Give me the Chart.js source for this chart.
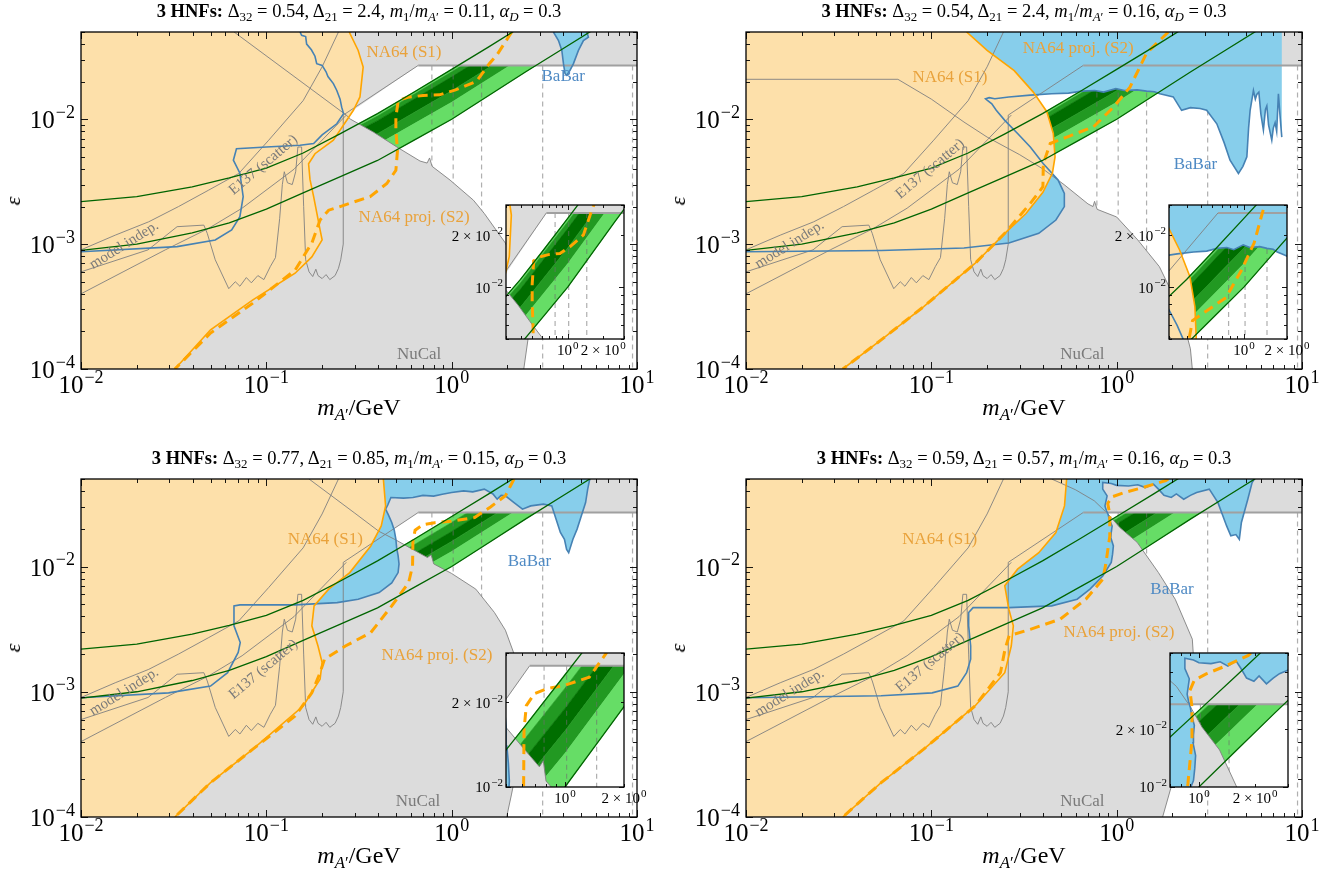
<!DOCTYPE html>
<html>
<head>
<meta charset="utf-8">
<title>3 HNFs dark photon limits</title>
<script src="https://cdn.jsdelivr.net/npm/chart.js@4.4.1/dist/chart.umd.min.js"></script>
<style>
  html, body { margin: 0; padding: 0; background: #fff; }
  body { width: 1334px; height: 881px; position: relative; overflow: hidden;
         font-family: "Liberation Serif", "DejaVu Serif", serif; color: #000; }
  canvas { position: absolute; }
  .ttl { position: absolute; font-size: 18.5px; line-height: 22px; white-space: nowrap; transform: translateX(-50%); }
  .xl { position: absolute; font-size: 24px; line-height: 28px; white-space: nowrap; transform: translateX(-50%); }
  .yl { position: absolute; font-size: 22px; font-style: italic; transform: translate(-50%, -50%) rotate(-90deg); }
  sub { font-size: 70%; vertical-align: -0.3em; line-height: 0; }
</style>
</head>
<body>
<script>
// axes
const X_RANGE = [0.01, 10];
const Y_RANGE = [1e-4, 0.05];
const RESONANCES = [0.782, 1.019, 1.45, 3.097, 9.46];
const TOP_LIMIT = 0.027;

// panel parameters
const DELTA_32 = ['0.54', '0.54', '0.77', '0.59'];
const DELTA_21 = ['2.4', '2.4', '0.85', '0.57'];
const MASS_RATIO = ['0.11', '0.16', '0.15', '0.16'];
const ALPHA_D = ['0.3', '0.3', '0.3', '0.3'];

// zoomed windows
const INSET_X = [[0.3, 3], [0.3, 2], [0.5, 2], [0.73, 3]];
const INSET_Y = [[0.005, 0.03], [0.005, 0.03], [0.01, 0.03], [0.01, 0.05]];

// HNF band edges (same in every panel)
const BAND_UPPER = [[0.01,0.00219],[0.02,0.0024],[0.0398,0.00288],[0.0631,0.00339],[0.1,0.00407],[0.158,0.00537],
  [0.251,0.00767],[0.398,0.01109],[0.631,0.0166],[1.0,0.0251],[1.585,0.038],[2.512,0.0582]];
const BAND_LOWER = [[0.01,0.000891],[0.02,0.001],[0.0398,0.00123],[0.0631,0.00148],[0.1,0.00191],[0.158,0.00257],
  [0.251,0.00347],[0.398,0.00468],[0.631,0.00684],[1.0,0.01],[1.585,0.01549],[2.512,0.024],[3.981,0.0367],[6.31,0.0562]];

// shaded bands inside the HNF band
const STRIPE_X = [0.1585, 0.3981, 1.0, 2.512, 6.31];
const EDGE_U = [0.00537, 0.01109, 0.0251, 0.0582, 0.1349];
const EDGE_L = [0.00257, 0.00468, 0.01, 0.024, 0.0562];
const SPLITS_A = [
  [0.00518, 0.01062, 0.02399, 0.05572, 0.1291],
  [0.00481, 0.00975, 0.02188, 0.05093, 0.1183],
  [0.00391, 0.00766, 0.0169, 0.03972, 0.0927],
  [0.0033, 0.00627, 0.01368, 0.03243, 0.0757]
];
const SPLITS_B = [
  [0.00492, 0.01, 0.02249, 0.05236, 0.1213],
  [0.00431, 0.00855, 0.01905, 0.04457, 0.1038],
  [0.00372, 0.00719, 0.01585, 0.03733, 0.0871],
  [0.00321, 0.00605, 0.01318, 0.03126, 0.0731]
];
const STRIPE_COLORS = ['#66dd66', '#229922', '#006e00', '#229922', '#66dd66'];

// fixed bounds
const E137 = [[0.01,0.0009],[0.0153,0.00118],[0.0232,0.00151],[0.0336,0.002],[0.0489,0.00271],[0.071,0.00368],
  [0.103,0.0068],[0.158,0.0141],[0.2,0.0263],[0.245,0.05]];
const MODEL_INDEP = [[0.01,0.0004],[0.0285,0.0009],[0.0489,0.00134],[0.074,0.00194],[0.141,0.00398],[0.27,0.0108]];
const SPIKY = [[0.01,0.0006],[0.023,0.0009],[0.033,0.00138],[0.046,0.00142],[0.048,0.00122],[0.053,0.00075],
  [0.0627,0.00044],[0.068,0.0005],[0.072,0.00046],[0.078,0.00054],[0.083,0.00049],[0.09,0.00056],[0.097,0.00052],
  [0.105,0.00066],[0.112,0.00078],[0.118,0.0016],[0.122,0.003],[0.125,0.0038],[0.13,0.0031],[0.138,0.003],
  [0.144,0.0038],[0.148,0.006],[0.155,0.006],[0.159,0.002],[0.163,0.00075],[0.17,0.0006],[0.178,0.00055],
  [0.185,0.00063],[0.19,0.00056],[0.2,0.00053],[0.21,0.00057],[0.22,0.00052],[0.235,0.00056],[0.245,0.00064],
  [0.252,0.00075],[0.26,0.001],[0.26,0.0108],[0.66,0.027]];
const TOP_EDGE = [[0.66,0.027],[10,0.027]];

// panel 1
const NUCAL_1 = [[0.067,0.05],[0.27,0.0108],[0.285,0.01],[0.378,0.0079],[0.506,0.006],[0.675,0.00463],[0.737,0.00446],
  [0.76,0.0049],[0.784,0.0042],[0.98,0.00326],[1.31,0.00225],[1.5,0.00176],[1.95,0.00102],[2.41,0.00049],[2.61,0.000194],[2.45,0.0001]];
const HOLE_EDGE_1 = [[0.66,0.027],[10,0.027],[10,0.0001]];
const NA64_S1_1 = [[0.28,0.05],[0.313,0.0356],[0.333,0.0262],[0.32,0.0151],[0.295,0.0118],[0.23,0.0068],[0.183,0.0053],
  [0.169,0.0044],[0.172,0.0033],[0.18,0.0024],[0.195,0.0013],[0.2,0.00108],[0.176,0.00079],[0.143,0.000585],
  [0.0846,0.000358],[0.05,0.000206],[0.0321,0.0001]];
const NA64_S2_1 = [[2.11,0.05],[1.76,0.033],[1.6,0.028],[1.36,0.0201],[1.05,0.0172],[0.86,0.0157],[0.7,0.0155],
  [0.58,0.015],[0.515,0.0142],[0.5,0.0104],[0.5,0.0082],[0.51,0.0056],[0.5,0.0039],[0.447,0.00306],[0.363,0.0024],
  [0.25,0.002],[0.217,0.00187],[0.195,0.00156],[0.176,0.00102],[0.143,0.00062],[0.0846,0.000337],[0.05,0.000194],[0.0321,0.0001]];
const BABAR_1 = [[0.152,0.05],[0.155,0.047],[0.163,0.046],[0.165,0.04],[0.175,0.036],[0.183,0.032],[0.187,0.0279],
  [0.2,0.027],[0.21,0.024],[0.215,0.022],[0.23,0.0193],[0.24,0.017],[0.25,0.0145],[0.255,0.0125],[0.261,0.0111],
  [0.24,0.0092],[0.2,0.0075],[0.18,0.0064],[0.152,0.0062],[0.1,0.006],[0.069,0.0058],[0.0664,0.0047],[0.072,0.0037],
  [0.075,0.0024],[0.072,0.00166],[0.065,0.0013],[0.053,0.00108],[0.033,0.000955],[0.01,0.00087]];
const BABAR_1B = [[3.54,0.05],[3.77,0.0427],[3.93,0.0356],[4.01,0.0279],[4.09,0.0232],[4.18,0.0225],[4.35,0.0246],
  [4.54,0.0279],[4.83,0.0356],[5.14,0.0427],[5.47,0.0454],[5.36,0.05]];

// panel 2
const NUCAL_2 = [[0.01,0.0209],[0.066,0.0209],[0.1,0.0145],[0.15,0.0095],[0.2,0.0072],[0.3,0.0052],[0.4,0.004],
  [0.52,0.003],[0.7,0.0021],[0.745,0.002],[0.76,0.0022],[0.785,0.0019],[1.0,0.00165],[1.3,0.00108],[1.7,0.00066],
  [2.2,0.0003],[2.5,0.000145],[2.56,0.0001]];
const HOLE_EDGE_2 = [[0.26,0.0057],[0.26,0.0108],[0.66,0.027],[10,0.027],[10,0.0001]];
const NA64_S1_2 = [[0.155,0.05],[0.2,0.0356],[0.28,0.0245],[0.355,0.0165],[0.42,0.0115],[0.455,0.0077],[0.465,0.005],
  [0.45,0.0037],[0.4,0.0026],[0.324,0.00176],[0.249,0.00122],[0.172,0.0007],[0.091,0.000316],[0.0536,0.000171],[0.0333,0.0001]];
const NA64_S2_2 = [[1.9,0.05],[1.45,0.0338],[1.18,0.0181],[0.96,0.0125],[0.75,0.0087],[0.538,0.0072],[0.438,0.0064],
  [0.402,0.0044],[0.4,0.00288],[0.342,0.00212],[0.249,0.00122],[0.172,0.0007],[0.091,0.000316],[0.0536,0.000171],[0.0333,0.0001]];
const BABAR_2 = [[0.01,0.00087],[0.0536,0.00089],[0.15,0.00093],[0.262,0.00102],[0.38,0.00122],[0.47,0.00156],
  [0.522,0.002],[0.522,0.00255],[0.483,0.00326],[0.401,0.00443],[0.342,0.006],[0.292,0.0077],[0.249,0.0098],
  [0.224,0.0118],[0.212,0.0133],[0.2,0.0142],[0.196,0.0146],[0.205,0.0149],[0.22,0.0146],[0.262,0.0151],
  [0.342,0.0156],[0.446,0.016],[0.55,0.0162],[0.65,0.0168],[0.76,0.017],[0.85,0.0165],[0.99,0.0176],[1.1,0.017],
  [1.29,0.0172],[1.45,0.0168],[1.6,0.0166],[1.71,0.016],[1.85,0.0156],[2.02,0.0151],[2.24,0.0118],[2.5,0.0124],
  [2.82,0.0122],[3.06,0.0118],[3.47,0.0092],[3.8,0.0065],[4.09,0.0047],[4.54,0.00368],[4.8,0.0042],[5.04,0.005],
  [5.15,0.0085],[5.25,0.0118],[5.47,0.017],[5.6,0.0145],[5.7,0.0158],[5.85,0.0165],[6.0,0.011],[6.19,0.0082],
  [6.35,0.012],[6.46,0.0128],[6.6,0.009],[6.87,0.0068],[7.0,0.0085],[7.16,0.0094],[7.3,0.008],[7.46,0.016],
  [7.6,0.011],[7.78,0.0072]];

// panel 3
const NUCAL_3 = [[0.17,0.05],[0.3,0.0267],[0.405,0.0191],[0.5,0.0163],[0.6,0.014],[0.74,0.0118],[0.775,0.0124],
  [0.8,0.0105],[1.0,0.0088],[1.35,0.0066],[1.7,0.0043],[1.95,0.0031],[2.2,0.0019],[2.3,0.0011],[2.33,0.0005],
  [2.25,0.00025],[2.1,0.00015],[1.98,0.0001]];
const HOLE_EDGE_3 = [[0.44,0.018],[0.66,0.027],[10,0.027],[10,0.0001]];
const NA64_S1_3 = [[0.428,0.05],[0.44,0.0305],[0.417,0.0211],[0.366,0.0146],[0.282,0.00895],[0.217,0.0066],
  [0.181,0.00485],[0.176,0.00336],[0.19,0.00232],[0.2,0.00171],[0.195,0.00126],[0.158,0.00077],[0.0846,0.000348],
  [0.05,0.000188],[0.0321,0.0001]];
const NA64_S2_3 = [[2.17,0.05],[1.95,0.0367],[1.62,0.0299],[1.33,0.0246],[0.99,0.023],[0.81,0.0224],[0.698,0.0215],
  [0.635,0.0195],[0.618,0.016],[0.615,0.0101],[0.586,0.00745],[0.475,0.00485],[0.366,0.00297],[0.267,0.00232],
  [0.206,0.00182],[0.195,0.00142],[0.176,0.00098],[0.143,0.00064],[0.0846,0.000348],[0.05,0.000188],[0.0321,0.0001]];
const BABAR_3 = [[0.01,0.000897],[0.0297,0.00098],[0.05,0.00111],[0.0618,0.00142],[0.0705,0.00206],[0.0723,0.00247],
  [0.0669,0.00336],[0.0669,0.00485],[0.072,0.00494],[0.143,0.00494],[0.241,0.00515],[0.313,0.00548],[0.406,0.0062],
  [0.475,0.0074],[0.514,0.00895],[0.52,0.0105],[0.514,0.0122],[0.505,0.014],[0.5,0.0165],[0.49,0.0195],[0.475,0.0225],
  [0.455,0.026],[0.44,0.0287],[0.452,0.031],[0.47,0.0356],[0.55,0.0352],[0.618,0.0356],[0.7,0.037],[0.8,0.0365],
  [0.89,0.0378],[1.0,0.039],[1.16,0.0402],[1.3,0.0395],[1.5,0.0415],[1.67,0.038],[1.76,0.0345],[1.85,0.037],
  [1.95,0.0367],[2.17,0.0324],[2.41,0.0287],[2.67,0.0305],[3.13,0.0315],[3.47,0.0305],[3.66,0.0239],[3.86,0.0187],
  [4.06,0.0165],[4.17,0.0137],[4.28,0.0129],[4.51,0.0165],[4.75,0.0199],[5.01,0.0254],[5.28,0.0324],[5.42,0.0415],[5.56,0.05]];

// panel 4
const NUCAL_4 = [[0.446,0.05],[0.6,0.041],[0.757,0.0335],[0.9,0.0262],[1.04,0.0205],[1.29,0.0156],[1.68,0.00895],
  [2.07,0.00548],[2.56,0.00263],[2.63,0.00142],[2.43,0.00057],[2.07,0.000226],[1.77,0.0001]];
const HOLE_EDGE_4 = [[0.88,0.027],[10,0.027],[10,0.0001]];
const NA64_S1_4 = [[0.537,0.05],[0.523,0.0305],[0.47,0.0187],[0.38,0.0129],[0.292,0.00953],[0.249,0.00702],
  [0.262,0.00456],[0.277,0.00336],[0.27,0.00232],[0.249,0.00142],[0.172,0.00077],[0.091,0.000348],[0.0536,0.000188],[0.0333,0.0001]];
const NA64_S2_4 = [[1.9,0.05],[1.84,0.0486],[1.35,0.0423],[1.1,0.039],[0.944,0.036],[0.895,0.0319],[0.918,0.0261],
  [0.918,0.0175],[0.873,0.0104],[0.841,0.0079],[0.683,0.0055],[0.496,0.0038],[0.342,0.00315],[0.263,0.0028],
  [0.25,0.0022],[0.236,0.00142],[0.172,0.00077],[0.091,0.000348],[0.0536,0.000188],[0.0333,0.0001]];
const BABAR_4 = [[0.01,0.000897],[0.0536,0.00093],[0.101,0.00098],[0.139,0.00111],[0.155,0.00142],[0.163,0.00182],
  [0.163,0.00232],[0.159,0.00336],[0.159,0.00429],[0.168,0.0047],[0.262,0.0047],[0.446,0.00485],[0.612,0.00548],
  [0.718,0.0066],[0.841,0.0084],[0.935,0.0108],[0.95,0.0125],[0.96,0.0146],[0.93,0.017],[0.935,0.0187],[0.945,0.021],
  [0.912,0.0239],[0.9,0.026],[0.88,0.028],[0.865,0.0305],[0.888,0.0367],[0.841,0.0415],[0.841,0.0469],[0.935,0.046],
  [1.0,0.0445],[1.16,0.044],[1.3,0.045],[1.43,0.0427],[1.58,0.0455],[1.68,0.0415],[1.8,0.037],[1.97,0.0356],[2.1,0.038],
  [2.3,0.0345],[2.5,0.037],[2.7,0.039],[3.16,0.0415],[3.52,0.0324],[3.92,0.0211],[4.13,0.0176],[4.4,0.018],
  [4.59,0.0165],[4.71,0.0225],[5.1,0.0345],[5.38,0.0469],[5.53,0.05]];

// colours
const ORANGE = '#ffa500', ORANGE_FILL = '#fde0aa', BLUE = '#4682b4', BLUE_FILL = '#87ceeb';
const GREY_FILL = '#dcdcdc', GREY_LINE = '#808080', GREEN_LINE = '#006400', DASH_GREY = 'rgba(110,110,110,0.55)';
const TXT_O = '#e9a23b', TXT_B = '#4f8ac4', TXT_G = '#7a7a7a';

const PANELS = [
  { box: [81, 32, 637, 369], inset: [506, 205, 624, 339], nucal: NUCAL_1, hole: HOLE_EDGE_1.concat(NUCAL_1.slice(1).reverse()),
    s1: NA64_S1_1, s2: NA64_S2_1, splits: SPLITS_A, babar: [[BABAR_1, true], [BABAR_1B, false]],
    notes: [['NA64 (S1)', 0.553, 0.0343, TXT_O, 0, 17], ['BaBar', 4.0, 0.0218, TXT_B, 0, 17],
            ['NA64 proj. (S2)', 0.627, 0.00162, TXT_O, 0, 17], ['NuCal', 0.667, 0.00013, TXT_G, 0, 17],
            ['E137 (scatter)', 0.0964, 0.0043, TXT_G, -40, 15], ['model indep.', 0.0171, 0.00098, TXT_G, -32, 15]] },
  { box: [746, 32, 1302, 369], inset: [1169, 205, 1287, 339], nucal: NUCAL_2, hole: HOLE_EDGE_2.concat(NUCAL_2.slice(5).reverse()),
    s1: NA64_S1_2, s2: NA64_S2_2, splits: SPLITS_A, babar: [[BABAR_2, true]],
    notes: [['NA64 proj. (S2)', 0.62, 0.0367, TXT_O, 0, 17], ['NA64 (S1)', 0.126, 0.0215, TXT_O, 0, 17],
            ['BaBar', 2.66, 0.00437, TXT_B, 0, 17], ['NuCal', 0.653, 0.00013, TXT_G, 0, 17],
            ['E137 (scatter)', 0.0986, 0.004, TXT_G, -40, 15], ['model indep.', 0.0172, 0.00099, TXT_G, -32, 15]] },
  { box: [81, 479, 637, 817], inset: [506, 653, 624, 787], nucal: NUCAL_3, hole: HOLE_EDGE_3.concat(NUCAL_3.slice(3).reverse()),
    s1: NA64_S1_3, s2: NA64_S2_3, splits: SPLITS_B, babar: [[BABAR_3, true]],
    notes: [['NA64 (S1)', 0.208, 0.0165, TXT_O, 0, 17], ['BaBar', 2.63, 0.0109, TXT_B, 0, 17],
            ['NA64 proj. (S2)', 0.832, 0.00193, TXT_O, 0, 17], ['NuCal', 0.658, 0.000132, TXT_G, 0, 17],
            ['E137 (scatter)', 0.0964, 0.00151, TXT_G, -40, 15], ['model indep.', 0.0171, 0.001, TXT_G, -32, 15]] },
  { box: [746, 479, 1302, 817], inset: [1170, 653, 1288, 787], nucal: NUCAL_4, hole: HOLE_EDGE_4.concat(NUCAL_4.slice(3).reverse()),
    s1: NA64_S1_4, s2: NA64_S2_4, splits: SPLITS_A, babar: [[BABAR_4, true]],
    notes: [['NA64 (S1)', 0.111, 0.0165, TXT_O, 0, 17], ['BaBar', 1.99, 0.0066, TXT_B, 0, 17],
            ['NA64 proj. (S2)', 1.03, 0.00297, TXT_O, 0, 17], ['NuCal', 0.653, 0.000132, TXT_G, 0, 17],
            ['E137 (scatter)', 0.0986, 0.00171, TXT_G, -40, 15], ['model indep.', 0.0172, 0.00098, TXT_G, -32, 15]] }
];

// ---------- dataset helpers ----------
const pts = a => a.map(p => ({ x: p[0], y: p[1] }));
const area = (a, color) => ({ data: pts(a), showLine: true, fill: 'shape', backgroundColor: color,
  borderColor: color, borderWidth: 0, pointRadius: 0, clip: 0 });
const curve = (a, color, width, dash) => ({ data: pts(a), showLine: true, fill: false, borderColor: color,
  borderWidth: width, borderDash: dash || [], pointRadius: 0, clip: 0 });

function signedArea(a) {
  let s = 0;
  for (let i = 0; i < a.length; i++) {
    const p = a[i], q = a[(i + 1) % a.length];
    s += Math.log10(p[0]) * Math.log10(q[1]) - Math.log10(q[0]) * Math.log10(p[1]);
  }
  return s;
}

// grey everywhere except the open window (outer loop + reversed inner loop)
function greyCover(hole) {
  const outer = [[0.001, 1e-5], [100, 1e-5], [100, 1], [0.001, 1]];
  const h = hole.slice();
  if (Math.sign(signedArea(h)) === Math.sign(signedArea(outer))) h.reverse();
  return outer.concat([outer[0]], h, [h[0], outer[0]]);
}

// closes a contour through the area above the frame
function closeAbove(c) {
  const f = c[0], l = c[c.length - 1];
  return c.concat([[l[0], 1], [0.001, 1], [0.001, f[1]]]);
}

function stripes(splits) {
  const edges = [EDGE_U].concat(splits, [EDGE_L]);
  const out = [];
  for (let k = 0; k < 5; k++) {
    const a = STRIPE_X.map((x, i) => [x, edges[k][i]]);
    const b = STRIPE_X.map((x, i) => [x, edges[k + 1][i]]).reverse();
    const d = area(a.concat(b), STRIPE_COLORS[k]);
    d.borderWidth = 0.6;
    out.push(d);
  }
  return out;
}

function buildDatasets(p) {
  const list = [];                      // bottom first
  list.push(...stripes(p.splits));
  RESONANCES.forEach(r => list.push(curve([[r, TOP_LIMIT], [r, 1e-5]], DASH_GREY, 1.2, [5, 4])));
  list.push(area(greyCover(p.hole), GREY_FILL));
  p.babar.forEach(([c, open]) => list.push(area(open ? closeAbove(c) : c, BLUE_FILL)));
  list.push(area(p.s1.concat([[0.001, 1e-5], [0.001, 1]]), ORANGE_FILL));
  list.push(curve(E137, GREY_LINE, 0.9));
  list.push(curve(MODEL_INDEP, GREY_LINE, 0.9));
  list.push(curve(SPIKY, GREY_LINE, 0.9));
  list.push(curve(p.nucal, GREY_LINE, 0.9));
  list.push(curve(TOP_EDGE, '#a0a0a0', 2));
  p.babar.forEach(([c]) => list.push(curve(c, BLUE, 1.6)));
  list.push(curve(p.s1, ORANGE, 1.6));
  list.push(curve(p.s2, ORANGE, 3, [10, 6]));
  list.push(curve(BAND_UPPER, GREEN_LINE, 1.3));
  list.push(curve(BAND_LOWER, GREEN_LINE, 1.3));
  return list.reverse();                // chart.js paints index 0 last
}

// ---------- frame, ticks and tick labels ----------
const FONT = '"Liberation Serif", "DejaVu Serif", serif';

function logTicks(min, max) {
  const out = [];
  for (let e = Math.floor(Math.log10(min)); e <= Math.ceil(Math.log10(max)); e++) {
    for (let m = 1; m < 10; m++) {
      const v = m * Math.pow(10, e);
      if (v >= min * 0.999 && v <= max * 1.001) out.push({ v, major: m === 1 });
    }
  }
  return out;
}

function drawPow(ctx, x, y, pre, exp, size, align) {
  const big = size + 'px ' + FONT, small = Math.round(size * 0.7) + 'px ' + FONT;
  ctx.font = big; const w1 = ctx.measureText(pre + '10').width;
  ctx.font = small; const w2 = ctx.measureText(exp).width;
  const x0 = align === 'right' ? x - w1 - w2 - 1 : x - (w1 + w2 + 1) / 2;
  ctx.font = big; ctx.fillText(pre + '10', x0, y);
  ctx.font = small; ctx.fillText(exp, x0 + w1 + 1, y - size * 0.42);
}

const axesDeco = {
  id: 'axesDeco',
  beforeDatasetsDraw(chart, args, o) {
    if (!o.bg) return;
    const a = chart.chartArea, ctx = chart.ctx;
    ctx.save(); ctx.fillStyle = o.bg;
    ctx.fillRect(a.left, a.top, a.right - a.left, a.bottom - a.top);
    ctx.restore();
  },
  afterDraw(chart, args, o) {
    const { ctx, chartArea: a, scales: { x, y } } = chart;
    ctx.save();
    ctx.strokeStyle = '#000'; ctx.lineWidth = 0.9;
    ctx.beginPath();
    for (const t of logTicks(x.min, x.max)) {
      const px = Math.round(x.getPixelForValue(t.v)) + 0.5, len = t.major ? o.major : o.minor;
      ctx.moveTo(px, a.bottom); ctx.lineTo(px, a.bottom - len);
      ctx.moveTo(px, a.top); ctx.lineTo(px, a.top + len);
    }
    for (const t of logTicks(y.min, y.max)) {
      const py = Math.round(y.getPixelForValue(t.v)) + 0.5, len = t.major ? o.major : o.minor;
      ctx.moveTo(a.left, py); ctx.lineTo(a.left + len, py);
      ctx.moveTo(a.right, py); ctx.lineTo(a.right - len, py);
    }
    ctx.stroke();
    ctx.lineWidth = 1.3;
    ctx.strokeRect(a.left, a.top, a.right - a.left, a.bottom - a.top);
    ctx.fillStyle = '#000'; ctx.textAlign = 'left'; ctx.textBaseline = 'alphabetic';
    for (const [v, pre, exp] of o.xLabels) drawPow(ctx, x.getPixelForValue(v), a.bottom + o.xGap, pre, exp, o.size, 'center');
    for (const [v, pre, exp] of o.yLabels) drawPow(ctx, a.left - o.yGap, y.getPixelForValue(v) + o.size * 0.36, pre, exp, o.size, 'right');
    ctx.restore();
  }
};

const textNotes = {
  id: 'textNotes',
  afterDatasetsDraw(chart, args, o) {
    if (!o.items || !o.items.length) return;
    const { ctx, scales: { x, y } } = chart;
    for (const [text, vx, vy, color, rot, size] of o.items) {
      ctx.save();
      ctx.translate(x.getPixelForValue(vx), y.getPixelForValue(vy));
      ctx.rotate(rot * Math.PI / 180);
      ctx.font = size + 'px ' + FONT;
      ctx.fillStyle = color; ctx.textAlign = 'center'; ctx.textBaseline = 'middle';
      ctx.fillText(text, 0, 0);
      ctx.restore();
    }
  }
};

function makeChart(box, pad, xr, yr, datasets, deco, items) {
  const c = document.createElement('canvas');
  const w = box[2] - box[0] + pad[0] + pad[2], h = box[3] - box[1] + pad[1] + pad[3];
  c.width = w; c.height = h;
  c.style.left = (box[0] - pad[0]) + 'px'; c.style.top = (box[1] - pad[1]) + 'px';
  c.style.width = w + 'px'; c.style.height = h + 'px';
  document.body.appendChild(c);
  return new Chart(c, {
    type: 'scatter',
    data: { datasets },
    options: {
      responsive: false, animation: false, events: [], devicePixelRatio: 1,
      layout: { padding: { left: pad[0], top: pad[1], right: pad[2], bottom: pad[3] } },
      scales: {
        x: { type: 'logarithmic', min: xr[0], max: xr[1], display: false },
        y: { type: 'logarithmic', min: yr[0], max: yr[1], display: false }
      },
      plugins: { legend: { display: false }, tooltip: { enabled: false }, axesDeco: deco, textNotes: { items: items || [] } }
    },
    plugins: [axesDeco, textNotes]
  });
}

function addDiv(cls, html, left, top) {
  const d = document.createElement('div');
  d.className = cls; d.innerHTML = html;
  d.style.left = left + 'px'; d.style.top = top + 'px';
  document.body.appendChild(d);
}

const MAIN_DECO = {
  major: 7, minor: 4, size: 25, xGap: 24, yGap: 6,
  xLabels: [[0.01, '', '−2'], [0.1, '', '−1'], [1, '', '0'], [10, '', '1']],
  yLabels: [[1e-4, '', '−4'], [1e-3, '', '−3'], [1e-2, '', '−2']]
};
const INSET_DECO = {
  bg: '#fff', major: 5, minor: 3, size: 15, xGap: 16, yGap: 3,
  xLabels: [[1, '', '0'], [2, '2 × ', '0']],
  yLabels: [[0.01, '', '−2'], [0.02, '2 × ', '−2']]
};

PANELS.forEach((p, i) => {
  const [l, t, r, b] = p.box;
  const cx = (l + r) / 2;
  makeChart(p.box, [81, 32, 30, 72], X_RANGE, Y_RANGE, buildDatasets(p), MAIN_DECO, p.notes);
  makeChart(p.inset, [88, 10, 28, 28], INSET_X[i], INSET_Y[i], buildDatasets(p), INSET_DECO, []);
  addDiv('ttl', '<b>3 HNFs:</b> Δ<sub>32</sub> = ' + DELTA_32[i] + ', Δ<sub>21</sub> = ' + DELTA_21[i] +
    ', <i>m</i><sub>1</sub>/<i>m</i><sub><i>A</i>′</sub> = ' + MASS_RATIO[i] + ', <i>α</i><sub><i>D</i></sub> = ' + ALPHA_D[i],
    cx, t - 32);
  addDiv('xl', '<i>m</i><sub><i>A</i>′</sub>/GeV', cx, b + 24);
  addDiv('yl', 'ε', l - 68, (t + b) / 2);
});
</script>
</body>
</html>
